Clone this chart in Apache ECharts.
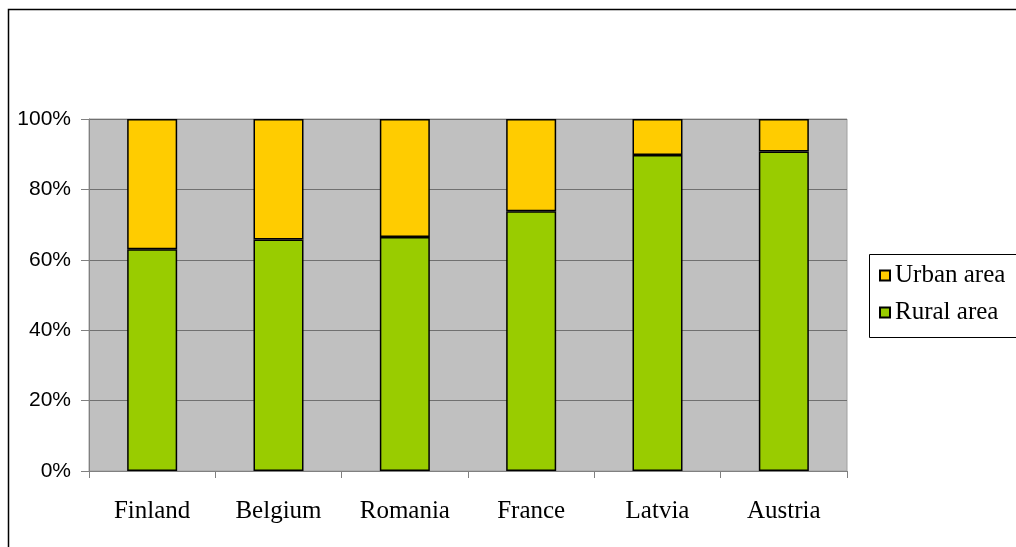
<!DOCTYPE html>
<html>
<head>
<meta charset="utf-8">
<script src="https://cdn.jsdelivr.net/npm/echarts@6/dist/echarts.min.js"></script>
<style>
html,body{margin:0;padding:0;background:#fff;}
#chart{width:1016px;height:547px;}
</style>
</head>
<body>
<div id="chart"></div>
<script>
const categories = ['Finland', 'Belgium', 'Romania', 'France', 'Latvia', 'Austria'];
const ruralArea = [63.0, 65.8, 66.5, 73.8, 89.8, 90.8];
const urbanArea = [37.0, 34.2, 33.5, 26.2, 10.2, 9.2];
const yTicks = [0, 20, 40, 60, 80, 100];

const chart = echarts.init(document.getElementById('chart'), null, {renderer: 'canvas'});
chart.setOption({
  animation: false,
  backgroundColor: '#ffffff',
  graphic: [
    {type: 'rect', shape: {x: 8.5, y: 9.5, width: 1100, height: 600}, style: {fill: 'none', stroke: '#000', lineWidth: 1.5}, z: 0},
    {type: 'rect', shape: {x: 869.5, y: 254.5, width: 300, height: 83}, style: {fill: '#fff', stroke: '#000', lineWidth: 1}, z: 1}
  ],
  legend: {
    data: ['Urban area', 'Rural area'],
    orient: 'vertical',
    left: 879,
    top: 263,
    itemGap: 12,
    itemWidth: 10,
    itemHeight: 10,
    icon: 'rect',
    padding: 0,
    textStyle: {fontFamily: 'Liberation Serif', fontSize: 25, lineHeight: 25, color: '#000'},
    z: 5
  },
  grid: {
    left: 89, top: 119, width: 758, height: 352,
    show: true, backgroundColor: '#C0C0C0', borderColor: '#A0A0A0', borderWidth: 1,
    containLabel: false
  },
  xAxis: {
    type: 'category',
    data: categories,
    axisLine: {lineStyle: {color: '#808080', width: 1}},
    axisTick: {show: true, length: 7, lineStyle: {color: '#808080'}},
    axisLabel: {fontFamily: 'Liberation Serif', fontSize: 25, color: '#000', margin: 28}
  },
  yAxis: {
    type: 'value',
    min: yTicks[0], max: yTicks[yTicks.length - 1], interval: 20,
    axisLine: {show: true, lineStyle: {color: '#808080', width: 1}},
    axisTick: {show: true, length: 8, lineStyle: {color: '#808080'}},
    axisLabel: {formatter: '{value}%', fontFamily: 'Liberation Sans', fontSize: 21, color: '#000', margin: 18},
    splitLine: {show: true, lineStyle: {color: '#707070', width: 1}}
  },
  series: [
    {
      name: 'Rural area', type: 'bar', stack: 'total', data: ruralArea, barWidth: 50,
      itemStyle: {color: '#99CC00', borderColor: '#000', borderWidth: 1.5}
    },
    {
      name: 'Urban area', type: 'bar', stack: 'total', data: urbanArea, barWidth: 50,
      itemStyle: {color: '#FFCC00', borderColor: '#000', borderWidth: 1.5}
    }
  ]
});
</script>
</body>
</html>
